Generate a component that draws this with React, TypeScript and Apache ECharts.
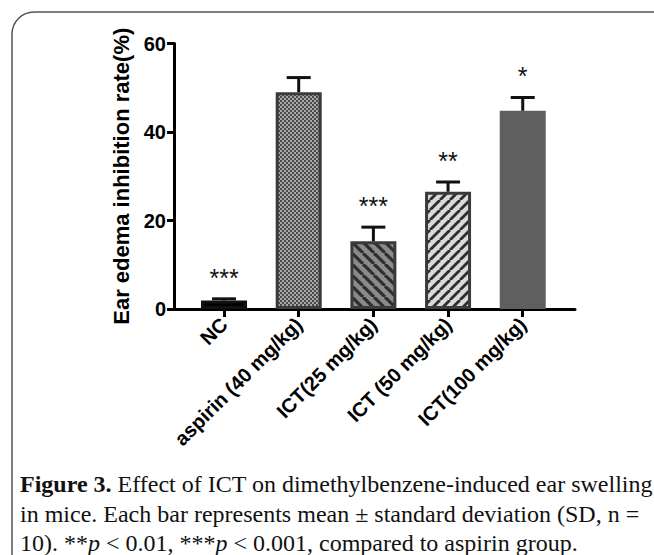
import React, { useEffect, useRef } from "react";
import * as echarts from "echarts";

const categories = ["NC", "aspirin (40 mg/kg)", "ICT(25 mg/kg)", "ICT (50 mg/kg)", "ICT(100 mg/kg)"];
const means = [1.9, 49.0, 15.3, 26.5, 44.8];
const sds = [0.4, 3.3, 3.2, 2.2, 3.0];
const stars = ["***", "", "***", "**", "*"];
const yTicks = [0, 20, 40, 60];
const xTicks = [0, 1, 2, 3, 4];

const captionLine1 = "{b|Figure 3.}{r| Effect of ICT on dimethylbenzene-induced ear swelling}";
const captionLine2 = "{r|in mice. Each bar represents mean ± standard deviation (SD, n =}";
const captionLine3 = "{r|10). **}{i|p}{r| < 0.01, ***}{i|p}{r| < 0.001, compared to aspirin group.}";

const SANS = "'Liberation Sans', Arial, Helvetica, sans-serif";
const SERIF = "'Liberation Serif', 'Times New Roman', serif";

function checkerTile() {
  const c = document.createElement("canvas");
  c.width = 4;
  c.height = 4;
  const g = c.getContext("2d")!;
  g.fillStyle = "#a8a8a8";
  g.fillRect(0, 0, 4, 4);
  g.fillStyle = "#4a4a4a";
  g.fillRect(0, 0, 2, 2);
  g.fillRect(2, 2, 2, 2);
  return { image: c.toDataURL(), repeat: "repeat", imageWidth: 4, imageHeight: 4 };
}

function stripeTile(s: number, bg: string, fg: string, lw: number, forward: boolean) {
  const c = document.createElement("canvas");
  c.width = s;
  c.height = s;
  const g = c.getContext("2d")!;
  g.fillStyle = bg;
  g.fillRect(0, 0, s, s);
  g.strokeStyle = fg;
  g.lineWidth = lw;
  for (let k = -1; k <= 1; k++) {
    g.beginPath();
    if (forward) {
      g.moveTo(k * s, s);
      g.lineTo(k * s + s, 0);
    } else {
      g.moveTo(k * s, 0);
      g.lineTo(k * s + s, s);
    }
    g.stroke();
  }
  return { image: c.toDataURL(), repeat: "repeat", imageWidth: s, imageHeight: s };
}

export default function App() {
  const ref = useRef<HTMLDivElement>(null);
  useEffect(() => {
    if (!ref.current) return;
    const chart = echarts.init(ref.current, null, { renderer: "svg" });

    const fills: any[] = [
      "#000000",
      checkerTile(),
      stripeTile(11, "#8a8a8a", "#2e2e2e", 3.2, false),
      stripeTile(10, "#dadada", "#2e2e2e", 2.8, true),
      "#5f5f5f",
    ];
    const borders = ["#111111", "#3a3a3a", "#3a3a3a", "#3a3a3a", "#5f5f5f"];

    const barData = means.map((v, i) => ({
      value: [i, v],
      itemStyle: { color: fills[i], borderColor: borders[i], borderWidth: 3 },
    }));
    const errData = means.map((v, i) => [i, v, sds[i]]);

    chart.setOption({
      animation: false,
      backgroundColor: "#ffffff",
      grid: { left: 174, right: 79, top: 43.5, bottom: 246, containLabel: false, outerBoundsMode: "none" },
      xAxis: {
        type: "value",
        min: -0.67,
        max: 4.7,
        splitLine: { show: false },
        axisLine: { show: true, onZero: true, lineStyle: { color: "#000", width: 3 } },
        axisTick: { show: true, customValues: xTicks, length: 8, lineStyle: { color: "#000", width: 3 } },
        axisLabel: {
          customValues: xTicks,
          formatter: (v: number) => categories[Math.round(v)] ?? "",
          rotate: 45,
          margin: 12,
          color: "#000",
          fontWeight: "bold",
          fontSize: 20,
          fontFamily: SANS,
        },
      },
      yAxis: {
        type: "value",
        min: 0,
        max: 60,
        interval: 20,
        splitLine: { show: false },
        axisLine: { show: true, onZero: false, lineStyle: { color: "#000", width: 3 } },
        axisTick: { show: true, length: 7, lineStyle: { color: "#000", width: 3 } },
        axisLabel: {
          margin: 8,
          color: "#000",
          fontWeight: "bold",
          fontSize: 20,
          fontFamily: SANS,
          formatter: (v: number) => (yTicks.includes(v) ? String(v) : ""),
        },
        name: "Ear edema inhibition rate(%)",
        nameLocation: "middle",
        nameGap: 41,
        nameTextStyle: { color: "#000", fontWeight: "bold", fontSize: 22, fontFamily: SANS },
      },
      series: [
        {
          type: "bar",
          barWidth: 46,
          data: barData,
          z: 2,
        },
        {
          type: "custom",
          z: 3,
          data: errData,
          encode: { x: 0, y: 1 },
          renderItem: (params: any, api: any) => {
            const x = api.value(0);
            const m = api.value(1);
            const s = api.value(2);
            const p0 = api.coord([x, m]);
            const p1 = api.coord([x, m + s]);
            const st = stars[params.dataIndex] || "";
            return {
              type: "group",
              children: [
                {
                  type: "line",
                  shape: { x1: p0[0], y1: p0[1], x2: p1[0], y2: p1[1] },
                  style: { stroke: "#111", lineWidth: 3 },
                },
                {
                  type: "line",
                  shape: { x1: p1[0] - 12, y1: p1[1], x2: p1[0] + 12, y2: p1[1] },
                  style: { stroke: "#111", lineWidth: 3 },
                },
                {
                  type: "text",
                  x: p1[0],
                  y: p1[1] - 21,
                  style: {
                    text: st,
                    fill: "#111",
                    fontSize: 25,
                    fontFamily: SANS,
                    align: "center",
                    verticalAlign: "middle",
                  },
                },
              ],
            };
          },
        },
      ],
      graphic: [
        {
          type: "rect",
          shape: { x: 12, y: 12, width: 700, height: 620, r: 22 },
          style: { fill: "none", stroke: "#555", lineWidth: 1.5 },
          z: 0,
        },
        ...[captionLine1, captionLine2, captionLine3].map((t, i) => ({
          type: "text",
          x: 20,
          y: [484, 514, 543][i],
          style: {
            text: t,
            verticalAlign: "middle",
            align: "left",
            fill: "#111",
            fontSize: 24,
            fontFamily: SERIF,
            rich: {
              b: { fontWeight: "bold", fontSize: 24, fontFamily: SERIF, fill: "#111" },
              r: { fontSize: 24, fontFamily: SERIF, fill: "#111" },
              i: { fontStyle: "italic", fontSize: 24, fontFamily: SERIF, fill: "#111" },
            },
          },
        })),
      ],
    });
    return () => chart.dispose();
  }, []);
  return (
    <div
      ref={ref}
      style={{ position: "fixed", left: 0, top: 0, width: 654, height: 555, background: "#fff" }}
    />
  );
}
